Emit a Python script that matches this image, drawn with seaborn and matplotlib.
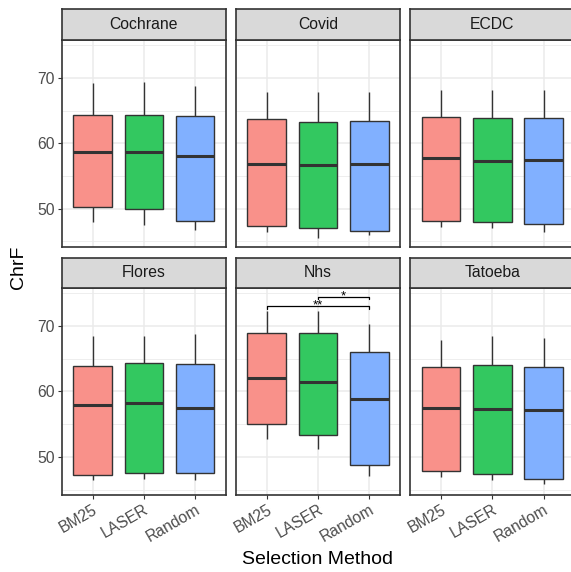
import numpy as np
import pandas as pd
import matplotlib
matplotlib.use("Agg")
import matplotlib.pyplot as plt
import seaborn as sns

sns.set_theme(style="white")
plt.rcParams["font.family"] = ["Liberation Sans", "DejaVu Sans"]

# ChrF score summaries per test set and example-selection method
datasets = ["Cochrane", "Covid", "ECDC", "Flores", "Nhs", "Tatoeba"]
methods = ["BM25", "LASER", "Random"]

whisker_low = [
    [48.0, 47.5, 46.8],
    [46.5, 45.6, 46.0],
    [47.2, 47.1, 46.5],
    [46.5, 46.6, 46.4],
    [52.8, 51.2, 47.1],
    [47.0, 46.5, 45.9],
]
q1 = [
    [50.3, 49.9, 48.2],
    [47.3, 47.0, 46.6],
    [48.2, 47.9, 47.7],
    [47.3, 47.5, 47.5],
    [55.0, 53.3, 48.7],
    [47.9, 47.4, 46.7],
]
median = [
    [58.7, 58.7, 58.1],
    [56.8, 56.7, 56.9],
    [57.7, 57.3, 57.5],
    [58.0, 58.3, 57.5],
    [62.0, 61.5, 58.9],
    [57.4, 57.3, 57.2],
]
q3 = [
    [64.3, 64.3, 64.1],
    [63.7, 63.3, 63.4],
    [64.0, 63.9, 63.9],
    [63.9, 64.3, 64.2],
    [68.9, 69.0, 66.0],
    [63.7, 64.1, 63.7],
]
whisker_high = [
    [69.2, 69.3, 68.7],
    [67.8, 67.8, 67.8],
    [68.2, 68.1, 68.2],
    [68.4, 68.5, 68.8],
    [72.3, 72.3, 70.3],
    [67.9, 68.4, 68.2],
]

# significance brackets drawn in the Nhs panel
sig_dataset = "Nhs"
sig_pairs = [("BM25", "Random"), ("LASER", "Random")]
sig_heights = [73.0, 74.43]
sig_labels = ["**", "*"]

rows = []
for i, d in enumerate(datasets):
    for j, m in enumerate(methods):
        for v in (whisker_low[i][j], q1[i][j], median[i][j], q3[i][j], whisker_high[i][j]):
            rows.append((d, m, v))
df = pd.DataFrame(rows, columns=["dataset", "method", "chrf"])

# ggplot-like hues blended at 80% opacity over white
palette = {"BM25": "#F9918A", "LASER": "#33C860", "Random": "#81B0FF"}

W, H = 571, 572
fig = plt.figure(figsize=(W / 100, H / 100), dpi=100)

col_left = [61.7, 235.9, 410.2]
panel_w = 164.3
row_top = [39.5, 287.7]
panel_h = 207.2
strip_h = 30.2
dark = "#333333"
tick_col = "#4D4D4D"
grid_col = "#EBEBEB"
fs_tick = 11.3

for idx, d in enumerate(datasets):
    r, c = divmod(idx, 3)
    x0, y0 = col_left[c], row_top[r]
    ax = fig.add_axes([x0 / W, 1 - (y0 + panel_h) / H, panel_w / W, panel_h / H])
    sub = df[df["dataset"] == d]
    sns.boxplot(
        data=sub, x="method", y="chrf", hue="method", order=methods,
        hue_order=methods, palette=palette, width=0.75, saturation=1,
        linecolor=dark, linewidth=1.0, showcaps=False, whis=1.5,
        medianprops=dict(linewidth=2.2, color=dark), legend=False, ax=ax,
    )
    ax.set_xlim(-0.6, 2.6)
    ax.set_ylim(44.2, 75.85)
    ax.set_yticks([50, 60, 70])
    ax.set_yticks([45, 55, 65, 75], minor=True)
    ax.set_axisbelow(True)
    ax.grid(which="major", color=grid_col, linewidth=1.1)
    ax.grid(which="minor", axis="y", color=grid_col, linewidth=0.6)
    ax.tick_params(which="minor", length=0)
    ax.set_xlabel("")
    ax.set_ylabel("")
    for s in ax.spines.values():
        s.set_color(dark)
        s.set_linewidth(1.2)
    ax.tick_params(axis="both", which="major", length=3, width=0.8,
                   color=dark, labelcolor=tick_col, labelsize=fs_tick, pad=2)
    if c != 0:
        ax.tick_params(axis="y", left=False, labelleft=False)
    else:
        ax.tick_params(axis="y", left=True, labelleft=True)
    if r == 0:
        ax.tick_params(axis="x", bottom=False, labelbottom=False)
    else:
        ax.tick_params(axis="x", bottom=True, labelbottom=True)
        for lab in ax.get_xticklabels():
            lab.set_rotation(30)
            lab.set_ha("right")
            lab.set_va("top")
            lab.set_rotation_mode("anchor")

    if d == sig_dataset:
        tip = 0.35
        for (a, b), yv, lab in zip(sig_pairs, sig_heights, sig_labels):
            xa, xb = methods.index(a), methods.index(b)
            ax.plot([xa, xa, xb, xb], [yv - tip, yv, yv, yv - tip],
                    color="black", linewidth=0.9, zorder=5)
            ax.text((xa + xb) / 2, yv - 0.35, lab, ha="center", va="baseline",
                    fontsize=9.5, color="black", zorder=6)

    sax = fig.add_axes([x0 / W, 1 - y0 / H, panel_w / W, strip_h / H])
    sax.set_facecolor("#D9D9D9")
    sax.set_xticks([])
    sax.set_yticks([])
    for s in sax.spines.values():
        s.set_color(dark)
        s.set_linewidth(1.2)
    sax.text(0.5, 0.5, d, ha="center", va="center", fontsize=fs_tick,
             color="#1A1A1A", transform=sax.transAxes)

fig.text(19 / W, 1 - 267 / H, "ChrF", rotation=90, ha="center", va="center",
         fontsize=14, color="black")
fig.text(318 / W, 1 - 560 / H, "Selection Method", ha="center", va="center",
         fontsize=14, color="black")

fig.savefig("out.png", dpi=100)
